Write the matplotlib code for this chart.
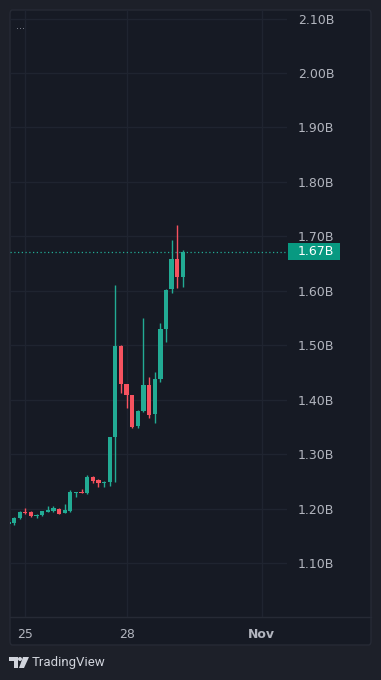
"""4H candlestick chart in a dark TradingView-like style."""

import matplotlib

matplotlib.use("Agg")
import matplotlib.pyplot as plt
import matplotlib.patches as patches
import matplotlib.transforms as mtransforms
import pandas as pd

# --- data (prices in billions) ---
times = pd.date_range("2024-10-24 12:00", periods=32, freq="4h")
opens = [1.172, 1.174, 1.1835, 1.1945, 1.1945, 1.1872, 1.189, 1.1945,
         1.196, 1.200, 1.1927, 1.1963, 1.2294, 1.2315, 1.2294, 1.2587,
         1.2532, 1.2477, 1.2495, 1.3321, 1.4991, 1.4294, 1.4092, 1.352,
         1.3798, 1.4275, 1.3743, 1.4385, 1.5303, 1.6037, 1.6587, 1.6257]
highs = [1.178, 1.1853, 1.196, 1.2018, 1.196, 1.190, 1.197, 1.2055,
         1.2055, 1.201, 1.2092, 1.2349, 1.232, 1.2367, 1.2624, 1.260,
         1.255, 1.252, 1.333, 1.611, 1.500, 1.430, 1.410, 1.382,
         1.5505, 1.4422, 1.4514, 1.5413, 1.604, 1.6936, 1.7211, 1.675]
lows = [1.170, 1.1706, 1.182, 1.1908, 1.186, 1.184, 1.188, 1.194,
        1.195, 1.190, 1.192, 1.195, 1.222, 1.2285, 1.228, 1.2477,
        1.2404, 1.2404, 1.2422, 1.2495, 1.4128, 1.385, 1.3486, 1.349,
        1.378, 1.367, 1.3578, 1.433, 1.5064, 1.5963, 1.6055, 1.6073]
closes = [1.176, 1.1835, 1.1945, 1.1927, 1.1872, 1.189, 1.1963, 1.1982,
          1.2018, 1.1908, 1.1982, 1.2312, 1.2312, 1.2294, 1.2587, 1.2514,
          1.2477, 1.2495, 1.3321, 1.4991, 1.4294, 1.4092, 1.3505, 1.3798,
          1.4275, 1.3725, 1.438, 1.5303, 1.6018, 1.6587, 1.6257, 1.6716]

price_ticks = [1.1, 1.2, 1.3, 1.4, 1.5, 1.6, 1.7, 1.8, 1.9, 2.0, 2.1]
time_ticks = pd.to_datetime(["2024-10-25", "2024-10-28", "2024-11-01"])
time_tick_labels = ["25", "28", "Nov"]
last_price_label = "1.67B"

# --- style ---
W, H = 381, 680
OUTER_BG = "#1d2029"
PANEL_BG = "#161a24"
BORDER = "#262a35"
GRID = "#1f2430"
TEXT = "#b2b5be"
UP = "#22ab94"
DOWN = "#f7525f"


def fx(px):
    return px / W


def fy(py):
    return 1 - py / H


fig = plt.figure(figsize=(W / 100, H / 100), dpi=100, facecolor=OUTER_BG)

# chart panel background (plot + price scale + time scale)
panel = patches.FancyBboxPatch(
    (fx(10), fy(645)), fx(361), 635 / H,
    boxstyle="round,pad=0,rounding_size=0.006",
    transform=fig.transFigure, facecolor=PANEL_BG, edgecolor=BORDER, lw=1,
    zorder=-10,
)
fig.add_artist(panel)
fig.add_artist(plt.Line2D([fx(10), fx(371)], [fy(617), fy(617)],
                          transform=fig.transFigure, color=BORDER, lw=1, zorder=-9))

ax = fig.add_axes([fx(10), fy(617), fx(277), 607 / H])
ax.set_facecolor("none")

# x positions in candle units
step = pd.Timedelta(hours=4)
xs = [(t - times[0]) / step for t in times]
tick_xs = [(t - times[0]) / step for t in time_ticks]

for x, o, h, l, c in zip(xs, opens, highs, lows, closes):
    color = UP if c >= o else DOWN
    ax.vlines(x, l, h, color=color, lw=1, zorder=3)
    ax.bar(x, max(abs(c - o), 0.0015), bottom=min(o, c), width=0.76,
           color=color, lw=0, zorder=4)

ax.set_xlim(0.28, 49.5)
ax.set_ylim(1.0018, 2.1156)

# last price line
ax.axhline(closes[-1], color=UP, lw=0.9, ls=(0, (1, 2)), zorder=2)

ax.set_yticks(price_ticks)
ax.set_yticklabels([f"{p:.2f}B" for p in price_ticks])
ax.yaxis.tick_right()
ax.tick_params(axis="y", length=0, pad=8, labelsize=9, labelcolor=TEXT)
for lbl in ax.get_yticklabels():
    lbl.set_horizontalalignment("left")

ax.set_xticks(tick_xs)
ax.set_xticklabels(time_tick_labels)
ax.tick_params(axis="x", length=0, pad=8, labelsize=9, labelcolor=TEXT)
ax.get_xticklabels()[-1].set_fontweight("bold")

ax.grid(True, color=GRID, lw=1)
ax.set_axisbelow(True)
for spine in ax.spines.values():
    spine.set_visible(False)

# last price tag on the price scale
blend = mtransforms.blended_transform_factory(fig.transFigure, ax.transData)
tag_h = 17 / 545
fig.add_artist(patches.Rectangle((fx(288), closes[-1] - tag_h / 2), fx(52), tag_h,
                                 transform=blend, facecolor="#089981", lw=0, zorder=5))
fig.text(fx(298), closes[-1], last_price_label, transform=blend, color="white",
         fontsize=9, va="center", ha="left", zorder=6)

# collapsed legend dots
fig.text(fx(16), fy(29), "···", color="#8a8e99", fontsize=7, va="center", ha="left")

# TradingView footer
logo_color = "#d1d4dc"
fig.add_artist(patches.Polygon(
    [(fx(9), fy(657)), (fx(17.5), fy(657)), (fx(17.5), fy(668)),
     (fx(13.5), fy(668)), (fx(13.5), fy(661)), (fx(9), fy(661))],
    closed=True, transform=fig.transFigure, facecolor=logo_color, lw=0))
fig.add_artist(patches.Ellipse((fx(20), fy(659)), fx(4), 4 / H,
                               transform=fig.transFigure, facecolor=logo_color, lw=0))
fig.add_artist(patches.Polygon(
    [(fx(23), fy(657)), (fx(29), fy(657)), (fx(24), fy(668)), (fx(19), fy(668))],
    closed=True, transform=fig.transFigure, facecolor=logo_color, lw=0))
fig.text(fx(32), fy(662.5), "TradingView", color=logo_color, fontsize=9.5,
         family="Roboto", va="center", ha="left")

fig.savefig("out.png", dpi=100, facecolor=OUTER_BG)
